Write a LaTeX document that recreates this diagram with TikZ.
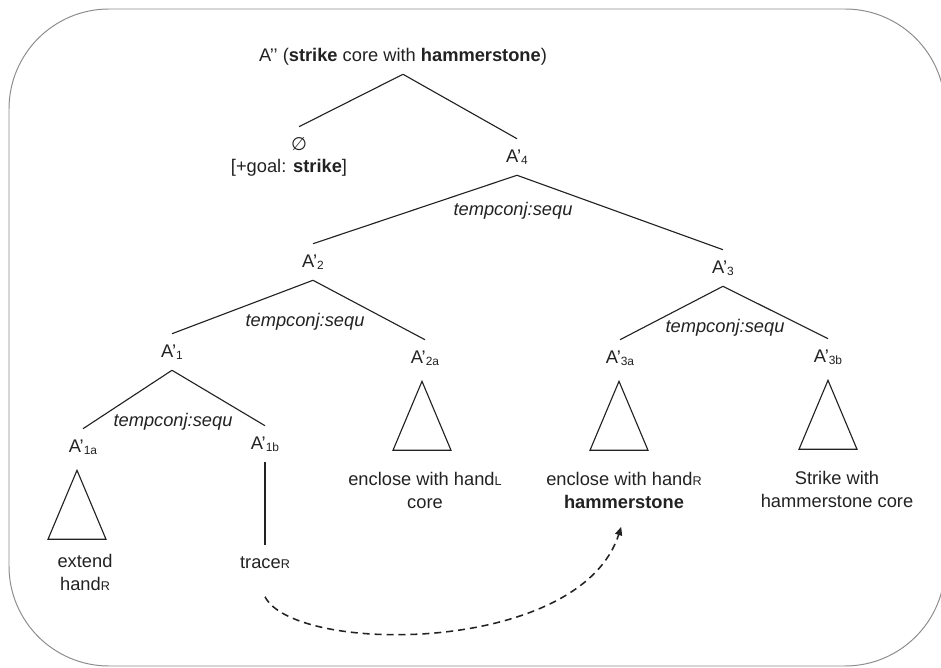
\documentclass[tikz,border=0pt]{standalone}
\usepackage{fontspec}
\setmainfont{Liberation Sans}
\newfontfamily\symfont{DejaVu Sans}
\usepackage{xcolor}
\usetikzlibrary{arrows.meta,positioning}
\definecolor{ink}{HTML}{222222}
\definecolor{framegray}{HTML}{8C8C8C}
\newcommand{\idx}[1]{\raisebox{-1.2pt}{\fontsize{8.5}{9}\selectfont #1}}
\newcommand{\hd}[1]{{\fontsize{9}{10}\selectfont #1}}

\begin{document}
\begin{tikzpicture}[x=0.025cm, y=-0.025cm, every node/.style={font=\fontsize{13}{16.4}\selectfont, text=ink},
		lab/.style={inner xsep=1pt, inner ysep=7.3pt, text height=9.5pt, text depth=1.5pt},
		conj/.style={inner sep=0pt, font=\fontsize{13}{16.4}\selectfont\itshape},
		leaf/.style={inner sep=0pt, align=center},
		edge/.style={draw=ink, line width=0.8pt},
		tri/.style={draw=ink, line width=0.8pt},
		move/.style={draw=ink, line width=1.1pt, dash pattern=on 5pt off 3.5pt, -{Triangle[length=6pt,width=5pt]}}]
				\useasboundingbox (0,0) rectangle (941,668);
				\clip (0,0) rectangle (941,668);
				\draw[framegray, line width=0.7pt, rounded corners=2.5cm] (9,9) rectangle (945,666);
				
				\node[lab] (root) at (403,56) {A’’ (\textbf{strike} core with \textbf{hammerstone})};
				\node[lab] (empty) at (299,145) {{\symfont ∅}};
				\node[inner sep=0pt] (goal) at (289,168) {[+goal: \textbf{strike}]};
				\node[lab] (a4) at (517,157) {A’\idx{4}};
				\node[lab] (a2) at (313,262) {A’\idx{2}};
				\node[lab] (a3) at (723,268) {A’\idx{3}};
				\node[lab] (a1) at (172,352) {A’\idx{1}};
				\node[lab] (a2a) at (425,358) {A’\idx{2a}};
				\node[lab] (a3a) at (620,358) {A’\idx{3a}};
				\node[lab] (a3b) at (828,357) {A’\idx{3b}};
				\node[lab] (a1a) at (83,447) {A’\idx{1a}};
				\node[lab] (a1b) at (265,444) {A’\idx{1b}};
				\node[lab] (trace) at (265,563) {trace\hd{R}};
				
				\node[conj] (c4) at (513,211) {tempconj:sequ};
				\node[conj] (c2) at (305,322) {tempconj:sequ};
				\node[conj] (c3) at (725,328) {tempconj:sequ};
				\node[conj] (c1) at (173,422) {tempconj:sequ};
				
				\node[leaf] (extend) at (85,572) {extend\\hand\hd{R}};
				\node[leaf] (encl2) at (425,490) {enclose with hand\hd{L}\\core};
				\node[leaf] (encl3) at (624,490) {enclose with hand\hd{R}\\\textbf{hammerstone}};
				\node[leaf] (strk) at (837,489) {Strike with\\hammerstone core};
				
				\draw[edge] (root.south) -- (empty.north);
				\draw[edge] (root.south) -- (a4.north);
				\draw[edge] (a4.south) -- (a2.north);
				\draw[edge] (a4.south) -- (a3.north);
				\draw[edge] (a2.south) -- (a1.north);
				\draw[edge] (a2.south) -- (a2a.north);
				\draw[edge] (a3.south) -- (a3a.north);
				\draw[edge] (a3.south) -- (a3b.north);
				\draw[edge] (a1.south) -- (a1a.north);
				\draw[edge] (a1.south) -- (a1b.north);
				\draw[edge] (a1b.south) -- (trace.north);
				
				% collapsed subtrees
				\draw[tri] (a1a.south) ++(-6,5) -- ++(-29,69) -- ++(58,0) -- cycle;
				\draw[tri] (a2a.south) ++(-3,5) -- ++(-29,69) -- ++(58,0) -- cycle;
				\draw[tri] (a3a.south) ++(-1,5) -- ++(-29,69) -- ++(58,0) -- cycle;
				\draw[tri] (a3b.south) ++(0,5) -- ++(-29,69) -- ++(58,0) -- cycle;
				
				\draw[move] ([yshift=-11pt]trace.south) .. controls (295,655) and (580,655) .. ([xshift=-2pt,yshift=-13pt]encl3.south);
			\end{tikzpicture}
\end{document}
